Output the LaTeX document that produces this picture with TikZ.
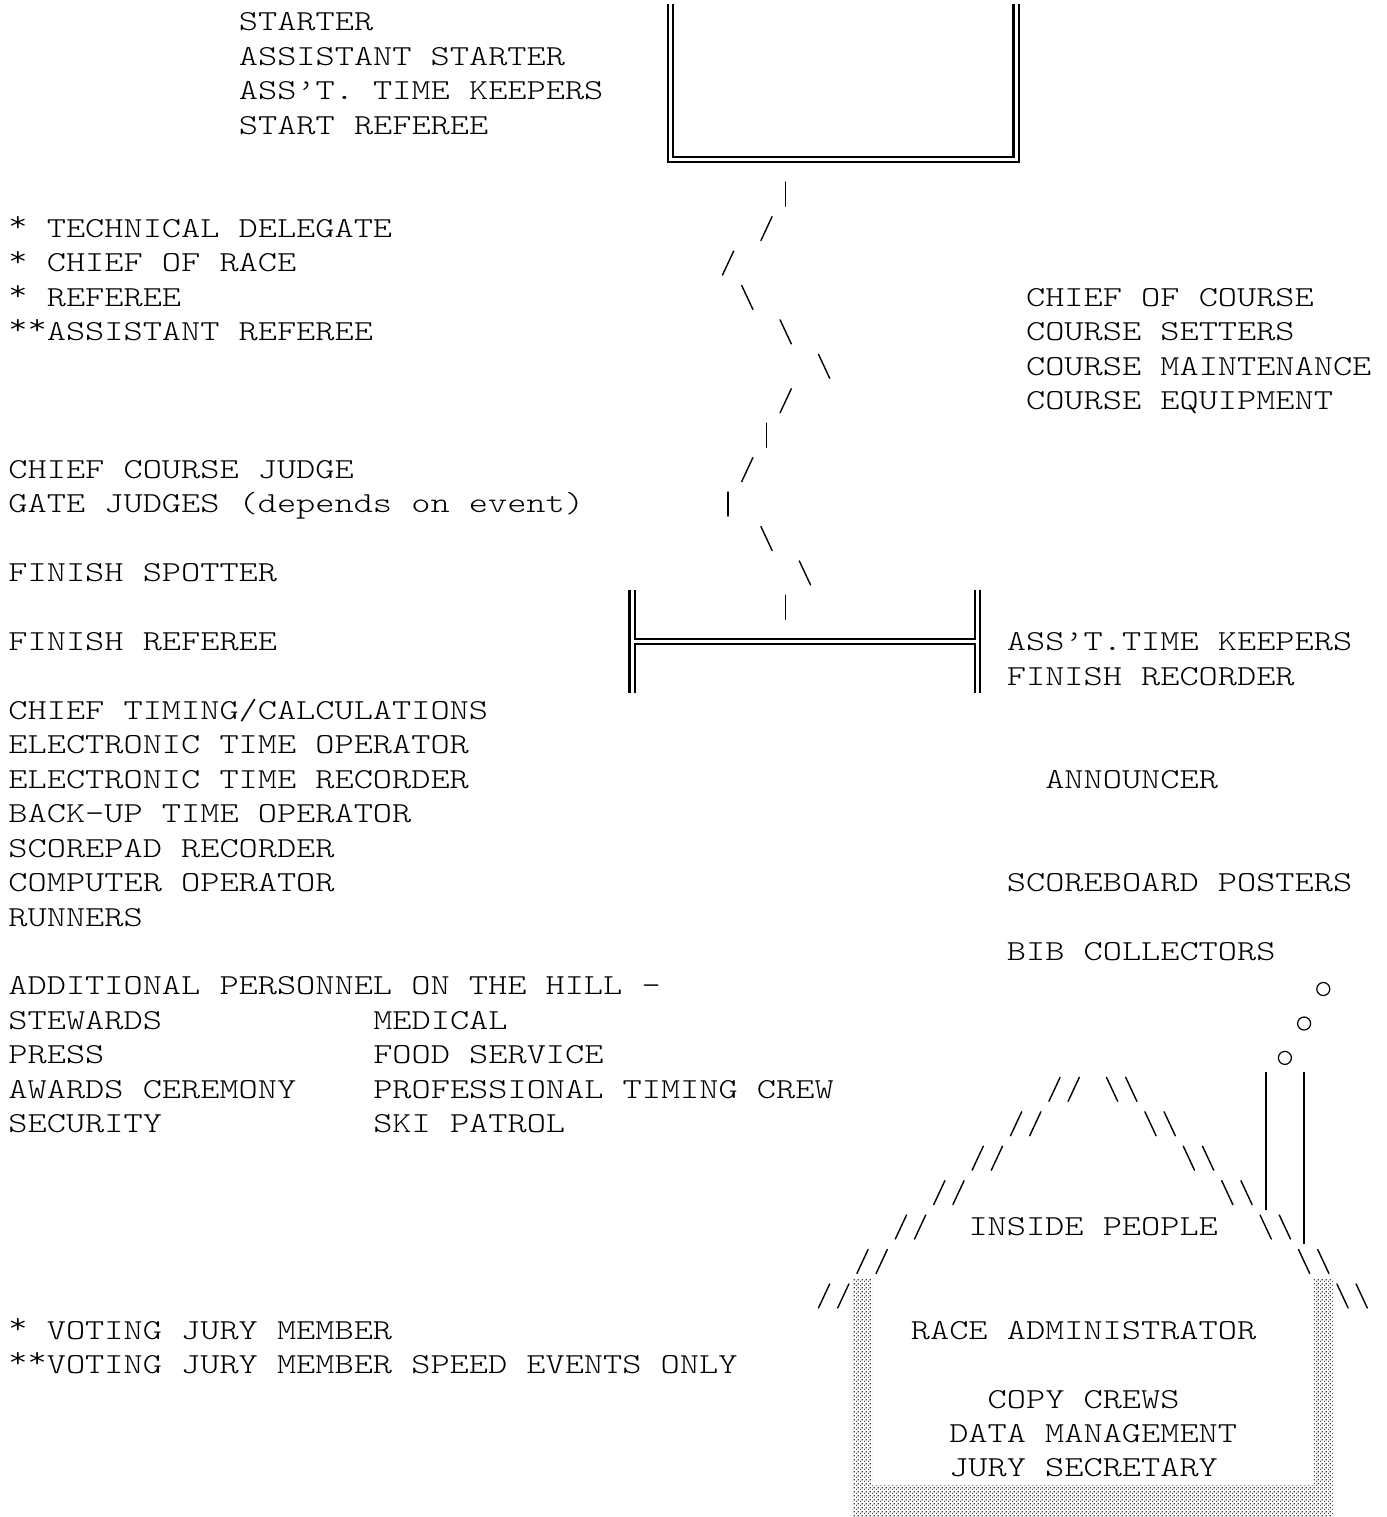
\documentclass[tikz,border=0pt]{standalone}
\usepackage{fontspec}
\usetikzlibrary{patterns}
\newfontfamily\asc{lmmonolt10-regular.otf}[FakeStretch=1.26]
\pgfdeclarepatternformonly{lightshade}{\pgfpointorigin}{\pgfpoint{2pt}{2pt}}{\pgfpoint{2pt}{2pt}}{%
  \pgfpathrectangle{\pgfpointorigin}{\pgfpoint{0.75pt}{0.75pt}}%
  \pgfpathrectangle{\pgfpoint{1pt}{1pt}}{\pgfpoint{0.75pt}{0.75pt}}%
  \pgfusepath{fill}}
\tikzset{
  txt/.style={anchor=base west, inner sep=0pt, font=\asc\fontsize{14.5pt}{17pt}\selectfont},
  gl/.style={line width=0.7pt, line cap=round},
  dbl/.style={line width=1.1pt},
  chim/.style={line width=1pt},
  puff/.style={line width=0.6pt},
  shadefill/.style={pattern=lightshade, pattern color=black!75, draw=none}
}
\newcommand\st{\raisebox{0.2em}{*}}
\newcommand\T[4]{\node[txt] (#1) at ({8.1+19.2*(#2)},{30.85+34.43*(#3)}) {#4};}
\newcommand\Sl[2]{\draw[gl] ({17.7+19.2*(#1)+5.6},{22+34.43*(#2)-12}) -- ++(-11.2,24);}
\newcommand\Bs[2]{\draw[gl] ({17.7+19.2*(#1)-5.6},{22+34.43*(#2)-12}) -- ++(11.2,24);}
\newcommand\Vb[2]{\draw[gl] ({17.7+19.2*(#1)},{22+34.43*(#2)-12}) -- ++(0,24);}
\begin{document}
\begin{tikzpicture}[x=0.5pt,y=-0.5pt]
\useasboundingbox (0,0) rectangle (1387,1517);
% ---- start box (double lines)
\draw[dbl] (667.9,4) -- (667.9,162.3) -- (1018.7,162.3) -- (1018.7,4);
\draw[dbl] (673.1,4) -- (673.1,157.1) -- (1013.5,157.1) -- (1013.5,4);
% ---- finish gate (double lines)
\draw[dbl] (629.5,590.1) -- (629.5,693.4);
\draw[dbl] (634.7,590.1) -- (634.7,639.1) -- (975.1,639.1) -- (975.1,590.1);
\draw[dbl] (634.7,693.4) -- (634.7,644.3) -- (975.1,644.3) -- (975.1,693.4);
\draw[dbl] (980.3,590.1) -- (980.3,693.4);
% ---- course zigzag
\Vb{40}{5} \Sl{39}{6} \Sl{37}{7} \Bs{38}{8} \Bs{40}{9} \Bs{42}{10}
\Sl{40}{11} \Vb{39}{12} \Sl{38}{13} \Vb{37}{14} \Bs{39}{15} \Bs{41}{16} \Vb{40}{17}
% ---- roof
\Sl{54}{31} \Sl{55}{31} \Bs{57}{31} \Bs{58}{31}
\Sl{52}{32} \Sl{53}{32} \Bs{59}{32} \Bs{60}{32}
\Sl{50}{33} \Sl{51}{33} \Bs{61}{33} \Bs{62}{33}
\Sl{48}{34} \Sl{49}{34} \Bs{63}{34} \Bs{64}{34}
\Sl{46}{35} \Sl{47}{35} \Bs{65}{35} \Bs{66}{35}
\Sl{44}{36} \Sl{45}{36} \Bs{67}{36} \Bs{68}{36}
\Sl{42}{37} \Sl{43}{37} \Bs{69}{37} \Bs{70}{37}
% ---- chimney and smoke
\draw[chim] (1265.7,1072) -- (1265.7,1209.8);
\draw[chim] (1304.1,1072) -- (1304.1,1244.3);
\draw[puff] (1323.3,989) circle[radius=6.5];
\draw[puff] (1304.1,1023.5) circle[radius=6.5];
\draw[puff] (1284.9,1057.9) circle[radius=6.5];
% ---- shaded walls
\path[shadefill] (852.9,1278.7) -- (872.1,1278.7) -- (872.1,1485.3) -- (1313.7,1485.3)
                 -- (1313.7,1278.7) -- (1332.9,1278.7) -- (1332.9,1517) -- (852.9,1517) -- cycle;
% ---- texts
\T{s1}{12}{0}{STARTER}
\T{s2}{12}{1}{ASSISTANT STARTER}
\T{s3}{12}{2}{ASS’T. TIME KEEPERS}
\T{s4}{12}{3}{START REFEREE}
\T{j1}{0}{6}{\st{} TECHNICAL DELEGATE}
\T{j2}{0}{7}{\st{} CHIEF OF RACE}
\T{j3}{0}{8}{\st{} REFEREE}
\T{j4}{0}{9}{\st\st{}ASSISTANT REFEREE}
\T{c1}{53}{8}{CHIEF OF COURSE}
\T{c2}{53}{9}{COURSE SETTERS}
\T{c3}{53}{10}{COURSE MAINTENANCE}
\T{c4}{53}{11}{COURSE EQUIPMENT}
\T{g1}{0}{13}{CHIEF COURSE JUDGE}
\T{g2}{0}{14}{GATE JUDGES (depends on event)}
\T{f1}{0}{16}{FINISH SPOTTER}
\T{f2}{0}{18}{FINISH REFEREE}
\T{f3}{52}{18}{ASS’T.TIME KEEPERS}
\T{f4}{52}{19}{FINISH RECORDER}
\T{t1}{0}{20}{CHIEF TIMING/CALCULATIONS}
\T{t2}{0}{21}{ELECTRONIC TIME OPERATOR}
\T{t3}{0}{22}{ELECTRONIC TIME RECORDER}
\T{a1}{54}{22}{ANNOUNCER}
\T{t4}{0}{23}{BACK-UP TIME OPERATOR}
\T{t5}{0}{24}{SCOREPAD RECORDER}
\T{t6}{0}{25}{COMPUTER OPERATOR}
\T{a2}{52}{25}{SCOREBOARD POSTERS}
\T{t7}{0}{26}{RUNNERS}
\T{a3}{52}{27}{BIB COLLECTORS}
\T{p0}{0}{28}{ADDITIONAL PERSONNEL ON THE HILL -}
\T{p1}{0}{29}{STEWARDS}
\T{p2}{19}{29}{MEDICAL}
\T{p3}{0}{30}{PRESS}
\T{p4}{19}{30}{FOOD SERVICE}
\T{p5}{0}{31}{AWARDS CEREMONY}
\T{p6}{19}{31}{PROFESSIONAL TIMING CREW}
\T{p7}{0}{32}{SECURITY}
\T{p8}{19}{32}{SKI PATROL}
\T{h0}{50}{35}{INSIDE PEOPLE}
\T{v1}{0}{38}{\st{} VOTING JURY MEMBER}
\T{h1}{47}{38}{RACE ADMINISTRATOR}
\T{v2}{0}{39}{\st\st{}VOTING JURY MEMBER SPEED EVENTS ONLY}
\T{h2}{51}{40}{COPY CREWS}
\T{h3}{49}{41}{DATA MANAGEMENT}
\T{h4}{49}{42}{JURY SECRETARY}
\end{tikzpicture}
\end{document}
